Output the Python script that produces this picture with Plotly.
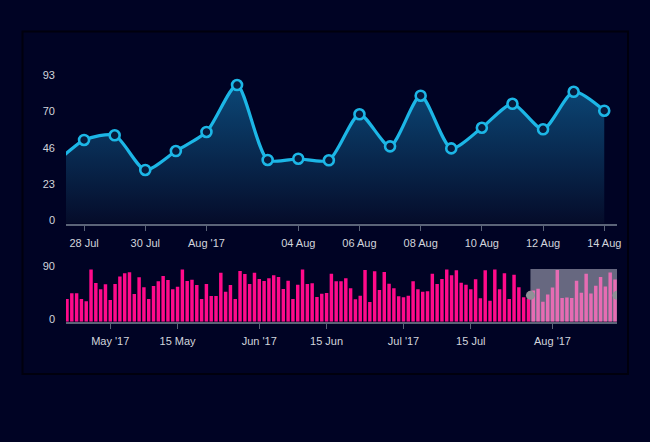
import pandas as pd
import plotly.graph_objects as go

# ---------------- data ----------------
start_date = "2017-04-22"
values = [
    # Apr 22 - Apr 30
    38.7, 48.4, 48.4, 38.7, 34.8, 89.0, 66.0, 55.3, 63.8,
    # May
    37.0, 64.4, 77.0, 82.6, 84.3, 47.3, 75.8, 58.7, 38.7, 61.0,
    69.0, 78.0, 71.2, 55.3, 59.8, 89.0, 69.5, 71.8, 62.7, 38.7,
    64.4, 43.9, 43.9, 83.8, 51.3, 62.7, 38.7, 86.6, 81.5, 64.4, 83.8,
    # Jun
    72.9, 69.5, 74.0, 79.2, 76.4, 55.8, 70.0, 38.7, 63.2, 89.0,
    64.4, 65.5, 42.2, 47.9, 49.0, 82.0, 69.0, 69.0, 74.0, 57.0,
    38.2, 44.4, 88.5, 33.6, 86.0, 54.1, 85.0, 65.0, 57.0, 43.3,
    # Jul
    41.6, 44.4, 69.0, 55.3, 51.3, 51.9, 82.0, 64.4, 72.9, 89.0,
    79.2, 87.7, 66.7, 63.2, 55.3, 72.4, 39.9, 87.7, 35.9, 89.0,
    55.3, 82.6, 38.7, 80.3, 58.7, 41.6, 39.3, 53.4, 56.4, 34.2, 46.3,
    # Aug 1 - Aug 14
    58.5, 88.5, 40.6, 41.4, 40.4, 69.8, 49.3, 81.7, 48.0, 61.2,
    76.5, 60.2, 84.2, 72.1,
]
dates = pd.date_range(start_date, periods=len(values), freq="D")

main_range = ["2017-07-27 09:50", "2017-08-14 10:00"]
nav_range = ["2017-04-21 19:00", "2017-08-14 10:00"]

main_tickvals = ["2017-07-28", "2017-07-30", "2017-08-01", "2017-08-04", "2017-08-06",
                 "2017-08-08", "2017-08-10", "2017-08-12", "2017-08-14"]
main_ticktext = ["28 Jul", "30 Jul", "Aug '17", "04 Aug", "06 Aug",
                 "08 Aug", "10 Aug", "12 Aug", "14 Aug"]
main_ytickvals = [0, 23.25, 46.5, 69.75, 93]
main_yticktext = ["0", "23", "46", "70", "93"]

nav_tickvals = ["2017-05-01", "2017-05-15", "2017-06-01", "2017-06-15",
                "2017-07-01", "2017-07-15", "2017-08-01"]
nav_ticktext = ["May '17", "15 May", "Jun '17", "15 Jun", "Jul '17", "15 Jul", "Aug '17"]

# ---------------- style ----------------
BG = "#000324"
LINE = "#1cb6e6"
PINK = "#ff0a8a"
AXIS = "#5b6478"
TXT = "#d2d5dc"
FONT = "Liberation Sans, Arial, sans-serif"

fig = go.Figure()

fig.add_trace(go.Scatter(
    x=dates, y=values, mode="lines+markers",
    line=dict(color=LINE, width=3.2, shape="spline", smoothing=0.7),
    marker=dict(size=10, color="#061a3c", line=dict(color=LINE, width=2.6)),
    fill="tozeroy",
    fillgradient=dict(type="vertical", start=0, stop=93,
                      colorscale=[[0, "rgb(5,12,42)"], [1, "rgb(12,74,122)"]]),
    xaxis="x", yaxis="y", hoverinfo="skip", showlegend=False,
))

fig.add_trace(go.Bar(
    x=dates, y=values, marker=dict(color=PINK, line=dict(width=0)),
    xaxis="x2", yaxis="y2", hoverinfo="skip", showlegend=False,
))

xd = [66 / 650, 617 / 650]
fig.update_layout(
    width=650, height=442, autosize=False,
    margin=dict(l=0, r=0, t=0, b=0, pad=0),
    paper_bgcolor=BG, plot_bgcolor="rgba(0,0,0,0)",
    font=dict(family=FONT, size=11, color=TXT),
    bargap=0.28,
    xaxis=dict(domain=xd, anchor="y", type="date", range=main_range, automargin=False,
               tickmode="array", tickvals=main_tickvals, ticktext=main_ticktext,
               showgrid=False, zeroline=False,
               showline=True, linecolor=AXIS, linewidth=2,
               ticks="outside", ticklen=5, tickcolor=AXIS, tickwidth=1,
               ticklabelstandoff=3, tickfont=dict(size=11, color=TXT)),
    yaxis=dict(domain=[218.5 / 442, 364 / 442], anchor="x", range=[0, 93], automargin=False,
               tickmode="array", tickvals=main_ytickvals, ticktext=main_yticktext,
               showgrid=False, zeroline=False, showline=False, ticks="",
               ticklabelstandoff=10, ticklabelshift=-3, tickfont=dict(size=11, color=TXT)),
    xaxis2=dict(domain=xd, anchor="y2", type="date", range=nav_range, automargin=False,
                tickmode="array", tickvals=nav_tickvals, ticktext=nav_ticktext,
                showgrid=False, zeroline=False,
                showline=True, linecolor=AXIS, linewidth=2,
                ticks="outside", ticklen=5, tickcolor=AXIS, tickwidth=1,
                ticklabelstandoff=3, tickfont=dict(size=11, color=TXT)),
    yaxis2=dict(domain=[120.3 / 442, 173 / 442], anchor="x2", range=[0, 90], automargin=False,
                tickmode="array", tickvals=[0, 90], ticktext=["0", "90"],
                showgrid=True, gridcolor="#363b4e", gridwidth=2,
                zeroline=False, showline=False, ticks="",
                ticklabelstandoff=10, ticklabelshift=-3, tickfont=dict(size=11, color=TXT)),
    shapes=[
        # outer panel frame
        dict(type="rect", xref="paper", yref="paper",
             x0=22.5 / 650, x1=628 / 650, y0=(442 - 374) / 442, y1=(442 - 31.5) / 442,
             line=dict(color="#00000d", width=2), fillcolor="rgba(0,0,0,0)", layer="below"),
        # navigator selection mask
        dict(type="rect", xref="x2", yref="y2", x0=main_range[0], x1=main_range[1],
             y0=0, y1=90, fillcolor="rgba(205,205,220,0.5)", line=dict(width=0),
             layer="above"),
        # handles
        dict(type="circle", xref="x2", yref="y2", xsizemode="pixel", ysizemode="pixel",
             xanchor=main_range[0], yanchor=45, x0=-4.5, x1=4.5, y0=-4.5, y1=4.5,
             fillcolor="#8f9096", line=dict(width=0), layer="above"),
        dict(type="circle", xref="x2", yref="y2", xsizemode="pixel", ysizemode="pixel",
             xanchor=main_range[1], yanchor=45, x0=-4.5, x1=4.5, y0=-4.5, y1=4.5,
             fillcolor="#8f9096", line=dict(width=0), layer="above"),
    ],
)

fig.write_html("out.html", config={"displayModeBar": False, "responsive": False},
               post_script=["document.body.style.margin='0';document.body.style.background='" + BG + "';"])
